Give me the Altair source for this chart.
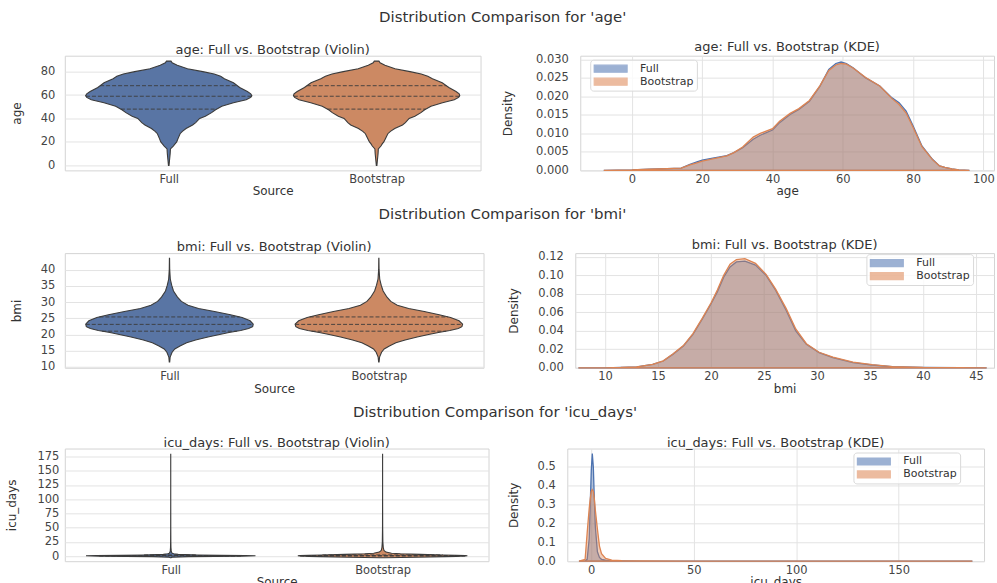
import altair as alt
import numpy as np
import pandas as pd

SOURCES = ["Full", "Bootstrap"]
VIOLIN_COLORS = ["#5975a4", "#cc8963"]
KDE_COLORS = ["#4c72b0", "#dd8452"]

# ---------------- age ----------------
age_grid = [-8, -4, 0, 5, 10, 14, 16.5, 18.5, 20, 23, 27, 29, 31.5, 34.5, 36.5,
            40, 42, 45, 47.5, 50.5, 53.5, 56, 58, 59.5, 61, 63, 66.5, 70.5, 74, 76,
            78, 80, 82.5, 85.5, 87.5, 89, 91, 93, 96]
age_full = [0, 0.00005, 0.0001, 0.0003, 0.0005, 0.0006, 0.0016, 0.0023, 0.0028, 0.0033,
            0.0040, 0.0048, 0.0061, 0.0084, 0.0095, 0.0109, 0.0129, 0.0151, 0.0165, 0.0187,
            0.0228, 0.0273, 0.0289, 0.0293, 0.0289, 0.0277, 0.0250, 0.0228, 0.0196, 0.0183,
            0.0160, 0.0120, 0.0066, 0.0030, 0.0012, 0.0008, 0.0004, 0.0001, 0]
age_boot = [0, 0.00005, 0.0001, 0.0003, 0.0005, 0.0006, 0.0015, 0.0020, 0.0025, 0.0031,
            0.0039, 0.0048, 0.0063, 0.0090, 0.0100, 0.0113, 0.0133, 0.0154, 0.0167, 0.0189,
            0.0229, 0.0270, 0.0285, 0.0289, 0.0287, 0.0276, 0.0251, 0.0228, 0.0194, 0.0178,
            0.0155, 0.0116, 0.0064, 0.0029, 0.0012, 0.0008, 0.0004, 0.0001, 0]
age_violin_range = [0, 89]
age_quart_full = [48, 59, 68]
age_quart_boot = [48, 59, 68]

# ---------------- bmi ----------------
bmi_grid = [7.5, 10, 11.5, 13, 14.5, 15.5, 16.4, 17.4, 18.3, 19.2, 20, 20.6, 21.2, 21.8, 22.4,
            23.2, 24.2, 25.2, 26.1, 27.1, 28, 29, 30.2, 31.5, 33.4, 35.2, 37.1, 40, 43.5, 46]
bmi_full = [0, 0, 0.0003, 0.0009, 0.0036, 0.0073, 0.0145, 0.0236, 0.036, 0.053,
            0.069, 0.082, 0.098, 0.109, 0.1145, 0.1153, 0.111, 0.100, 0.084, 0.062,
            0.040, 0.0255, 0.0164, 0.011, 0.0055, 0.003, 0.0011, 0.0003, 0.0001, 0]
bmi_boot = [0, 0, 0.0003, 0.001, 0.0038, 0.0075, 0.0148, 0.024, 0.037, 0.054,
            0.070, 0.084, 0.100, 0.112, 0.117, 0.118, 0.113, 0.101, 0.085, 0.064,
            0.042, 0.026, 0.0168, 0.0115, 0.006, 0.0033, 0.0012, 0.0003, 0.0001, 0]
bmi_violin_range = [11.5, 43.5]
bmi_quart_full = [21.0, 23.1, 25.4]
bmi_quart_boot = [21.0, 23.1, 25.4]

# ---------------- icu_days ----------------
icu_grid = [-6, -3, -2, -1, -0.5, 0, 0.5, 1, 1.5, 2, 3, 4, 5, 7, 10, 15, 25, 50, 100, 150, 179, 186]
icu_full = [0, 0.002, 0.01, 0.12, 0.30, 0.48, 0.57, 0.50, 0.33, 0.18, 0.05, 0.02, 0.01,
            0.005, 0.003, 0.0015, 0.0008, 0.0003, 0.0001, 0.00005, 0.00003, 0]
icu_boot = [0, 0.01, 0.15, 0.28, 0.33, 0.37, 0.38, 0.37, 0.33, 0.27, 0.17, 0.08, 0.04,
            0.015, 0.006, 0.003, 0.0012, 0.0004, 0.0001, 0.00005, 0.00003, 0]
icu_violin_range = [-3, 179]
icu_quart_full = [0, 1, 2]
icu_quart_boot = [0, 1, 2]

FONT = "DejaVu Sans"
TEXT = "#333333"


def kde_frame(grid, full, boot):
    rows = []
    for src, vals in zip(SOURCES, [full, boot]):
        for g, v in zip(grid, vals):
            rows.append({"x": g, "density": v, "Source": src})
    return pd.DataFrame(rows)


def violin_frame(grid, full, boot, rng):
    rows = []
    for i, (src, vals) in enumerate(zip(SOURCES, [full, boot])):
        m = max(vals)
        for g, v in zip(grid, vals):
            if rng[0] <= g <= rng[1]:
                hw = 0.4 * v / m
                rows.append({"value": g, "left": i - hw, "right": i + hw, "Source": src})
    return pd.DataFrame(rows)


def quart_frame(grid, full, boot, qf, qb):
    rows = []
    for i, (src, vals, qs) in enumerate(zip(SOURCES, [full, boot], [qf, qb])):
        m = max(vals)
        for q in qs:
            hw = 0.4 * float(np.interp(q, grid, vals)) / m
            rows.append({"value": q, "left": i - hw, "right": i + hw, "Source": src})
    return pd.DataFrame(rows)


def violin(var, vdf, qdf, ydom, yvals, w, h, title_x, label_pad):
    x = alt.X("left:Q", scale=alt.Scale(domain=[-0.5, 1.5], nice=False, zero=False),
              axis=alt.Axis(values=[0, 1], labelExpr="datum.value == 0 ? 'Full' : 'Bootstrap'",
                            title="Source", grid=False, labelPadding=3, titlePadding=1))
    y = alt.Y("value:Q", scale=alt.Scale(domain=ydom, nice=False, zero=False),
              axis=alt.Axis(values=yvals, title=var, titleX=title_x, titleBaseline="middle",
                            labelPadding=label_pad, labelOverlap=False))
    area = alt.Chart(vdf).mark_area(orient="horizontal", stroke="#3b3b3b", strokeWidth=1.1,
                                    fillOpacity=1).encode(
        y=y, x=x, x2="right:Q",
        color=alt.Color("Source:N", scale=alt.Scale(domain=SOURCES, range=VIOLIN_COLORS), legend=None),
        detail="Source:N",
    )
    rules = alt.Chart(qdf).mark_rule(strokeDash=[4, 2], color="#3b3b3b", strokeWidth=0.9).encode(
        y=y, x=x, x2="right:Q")
    return alt.layer(area, rules).properties(
        width=w, height=h,
        title=alt.TitleParams(f"{var}: Full vs. Bootstrap (Violin)", frame="group", offset=-1, fontSize=13))


def kde(var, kdf, xdom, xvals, ydom, yvals, fmt, w, h, title_x, lx, ly):
    leg = alt.Legend(title=None, orient="none", legendX=lx, legendY=ly,
                     symbolType="M-1,-0.7H5.6V0.7H-1Z", symbolSize=100, symbolOpacity=0.55,
                     symbolStrokeWidth=1.2, labelFontSize=11, labelOffset=35, padding=3,
                     rowPadding=1, fillColor="rgba(255,255,255,0.8)", strokeColor="#d9d9d9",
                     cornerRadius=3, labelColor=TEXT, labelFont=FONT)
    ch = alt.Chart(kdf).mark_area(fillOpacity=0.4, strokeWidth=1.3).encode(
        x=alt.X("x:Q", scale=alt.Scale(domain=xdom, nice=False, zero=False),
                axis=alt.Axis(values=xvals, title=var, labelPadding=3, titlePadding=1)),
        y=alt.Y("density:Q", stack=None, scale=alt.Scale(domain=ydom, nice=False, zero=False),
                axis=alt.Axis(values=yvals, format=fmt, title="Density", titleX=title_x,
                              titleBaseline="middle", labelPadding=12, labelOverlap=False)),
        color=alt.Color("Source:N", scale=alt.Scale(domain=SOURCES, range=KDE_COLORS), legend=leg),
        stroke=alt.Stroke("Source:N", scale=alt.Scale(domain=SOURCES, range=KDE_COLORS), legend=leg),
    )
    return ch.properties(
        width=w, height=h,
        title=alt.TitleParams(f"{var}: Full vs. Bootstrap (KDE)", frame="group", offset=-1, fontSize=13))


def row(var, left, right, spacing):
    return alt.hconcat(left, right, spacing=spacing, bounds="flush",
                       title=alt.TitleParams(f"Distribution Comparison for '{var}'", anchor="middle",
                                             fontSize=15, offset=16)
                       ).resolve_scale(color="independent", stroke="independent"
                       ).resolve_legend(color="independent", stroke="independent")


v_age = violin("age", violin_frame(age_grid, age_full, age_boot, age_violin_range),
               quart_frame(age_grid, age_full, age_boot, age_quart_full, age_quart_boot),
               [-4.3, 93.6], [0, 20, 40, 60, 80], 417, 115, -48, 10)
k_age = kde("age", kde_frame(age_grid, age_full, age_boot), [-14.7, 103], [0, 20, 40, 60, 80, 100],
            [0, 0.031], [0, 0.005, 0.01, 0.015, 0.02, 0.025, 0.03], ".3f", 415, 115, -73, 10, 4)

v_bmi = violin("bmi", violin_frame(bmi_grid, bmi_full, bmi_boot, bmi_violin_range),
               quart_frame(bmi_grid, bmi_full, bmi_boot, bmi_quart_full, bmi_quart_boot),
               [9.7, 45.1], [10, 15, 20, 25, 30, 35, 40], 420, 115, -48, 10)
k_bmi = kde("bmi", kde_frame(bmi_grid, bmi_full, bmi_boot), [7.2, 46.7], [10, 15, 20, 25, 30, 35, 40, 45],
            [0, 0.124], [0, 0.02, 0.04, 0.06, 0.08, 0.10, 0.12], ".2f", 420, 115, -62, 292, 1)

v_icu = violin("icu_days", violin_frame(icu_grid, icu_full, icu_boot, icu_violin_range),
               quart_frame(icu_grid, icu_full, icu_boot, icu_quart_full, icu_quart_boot),
               [-9, 189], [0, 25, 50, 75, 100, 125, 150, 175], 425, 113, -53, 6)
k_icu = kde("icu_days", kde_frame(icu_grid, icu_full, icu_boot), [-11.7, 191.7], [0, 50, 100, 150],
            [0, 0.597], [0, 0.1, 0.2, 0.3, 0.4, 0.5], ".1f", 418, 113, -54, 287, 4)

chart = alt.vconcat(
    row("age", v_age, k_age, 100),
    row("bmi", v_bmi, k_bmi, 92),
    row("icu_days", v_icu, k_icu, 79),
    spacing=10,
).resolve_scale(
    color="independent", stroke="independent"
).resolve_legend(
    color="independent", stroke="independent"
).properties(
    padding={"left": 5, "top": 9, "right": 2, "bottom": 0}
).configure(
    font=FONT,
).configure_view(
    stroke="#d4d4d4", strokeWidth=1
).configure_axis(
    domain=False, ticks=False, tickSize=0, gridColor="#e3e3e3", gridWidth=1,
    labelColor="#444444", titleColor=TEXT, labelFont=FONT, titleFont=FONT,
    labelFontSize=11.5, titleFontSize=12, titleFontWeight="normal",
).configure_title(
    font=FONT, fontWeight="normal", color=TEXT,
)

chart.save("out.html", embed_options={"renderer": "svg", "actions": False})
